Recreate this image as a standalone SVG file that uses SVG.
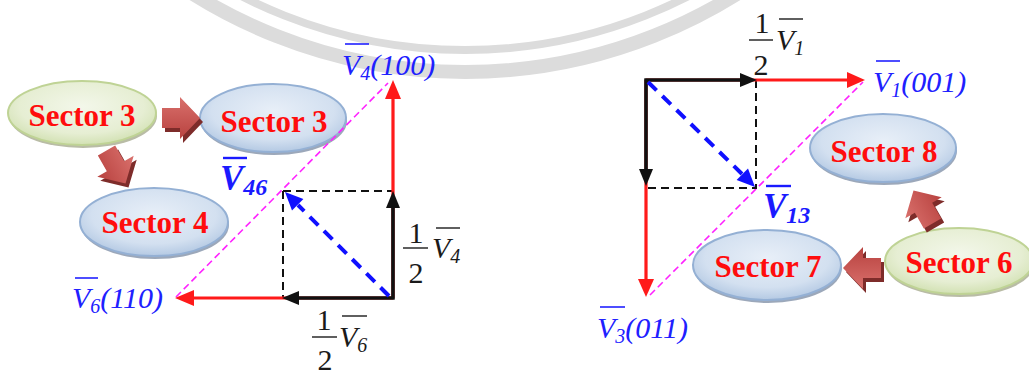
<svg xmlns="http://www.w3.org/2000/svg" width="1029" height="374" viewBox="0 0 1029 374">
<style>
.sec{font-family:"Liberation Serif",serif;font-weight:bold;font-size:31px;fill:#ff0d0d;text-anchor:middle}
.lbl{font-family:"Liberation Serif",serif;font-style:italic;font-size:30px;fill:#2020ff}
.big{font-family:"Liberation Serif",serif;font-style:italic;font-weight:bold;font-size:35px;fill:#1a1aff}
.num{font-family:"Liberation Serif",serif;font-size:30px;fill:#1a1a1a;text-anchor:middle}
.vv{font-family:"Liberation Serif",serif;font-style:italic;font-size:30px;fill:#1a1a1a}
.ovb{stroke:#2020ff;stroke-width:1.6}
.ovk{stroke:#1a1a1a;stroke-width:1.4}
.red{stroke:#ff1a1a;stroke-width:3.2;fill:none}
.blk{stroke:#111;stroke-width:3.6;fill:none}
.dsh{stroke:#111;stroke-width:2;stroke-dasharray:8,5;fill:none}
.bld{stroke:#1010ff;stroke-width:4;stroke-dasharray:12,8;fill:none}
.mag{stroke:#ff22ff;stroke-width:1.6;stroke-dasharray:7,4;fill:none}
.wm{fill:none;stroke:#dcdcdc}
</style>
<defs>
<radialGradient id="gb" cx="0.5" cy="0.4" r="0.6">
<stop offset="0" stop-color="#e8eff8"/><stop offset="0.7" stop-color="#d3e0f0"/><stop offset="1" stop-color="#b4c9e3"/>
</radialGradient>
<radialGradient id="gg" cx="0.5" cy="0.4" r="0.6">
<stop offset="0" stop-color="#f3f7ea"/><stop offset="0.7" stop-color="#e6eed3"/><stop offset="1" stop-color="#d2e1b3"/>
</radialGradient>
<linearGradient id="ga" x1="0" y1="0" x2="0" y2="1">
<stop offset="0" stop-color="#d9706c"/><stop offset="1" stop-color="#b8423f"/>
</linearGradient>
<path id="barrow" d="M-19,-10 H-1 V-21 L19,0 L-1,21 V10 H-19 Z"/>
</defs>
<rect width="1029" height="374" fill="#fff"/>
<g id="watermark">
<circle class="wm" cx="465" cy="-440" r="512" stroke-width="14"/>
<circle class="wm" cx="465" cy="-440" r="490" stroke-width="8"/>
</g>

<g id="node-sector3-green">
<ellipse cx="83" cy="116" rx="74" ry="32" fill="#b9bca6"/>
<ellipse cx="82" cy="113" rx="74" ry="32" fill="url(#gg)" stroke="#bfd395" stroke-width="2"/>
<text class="sec" x="82" y="126">Sector 3</text>
</g>
<g id="node-sector3-blue">
<ellipse cx="274" cy="121" rx="73" ry="34" fill="#9ca8ba"/>
<ellipse cx="273" cy="118" rx="73" ry="34" fill="url(#gb)" stroke="#94b0d4" stroke-width="2"/>
<text class="sec" x="274" y="132">Sector 3</text>
</g>
<g id="node-sector4">
<ellipse cx="155" cy="225" rx="74" ry="34" fill="#9ca8ba"/>
<ellipse cx="154" cy="222" rx="74" ry="34" fill="url(#gb)" stroke="#94b0d4" stroke-width="2"/>
<text class="sec" x="155" y="233">Sector 4</text>
</g>
<g id="node-sector8">
<ellipse cx="884" cy="151" rx="73" ry="34" fill="#9ca8ba"/>
<ellipse cx="883" cy="148" rx="73" ry="34" fill="url(#gb)" stroke="#94b0d4" stroke-width="2"/>
<text class="sec" x="884" y="162">Sector 8</text>
</g>
<g id="node-sector7">
<ellipse cx="768" cy="268" rx="74" ry="35" fill="#9ca8ba"/>
<ellipse cx="767" cy="265" rx="74" ry="35" fill="url(#gb)" stroke="#94b0d4" stroke-width="2"/>
<text class="sec" x="768" y="277">Sector 7</text>
</g>
<g id="node-sector6">
<ellipse cx="960" cy="264" rx="74" ry="33" fill="#b9bca6"/>
<ellipse cx="959" cy="261" rx="74" ry="33" fill="url(#gg)" stroke="#bfd395" stroke-width="2"/>
<text class="sec" x="959" y="273">Sector 6</text>
</g>

<g id="block-arrows">
<use href="#barrow" transform="translate(184,122)" fill="#7e2c2a"/>
<use href="#barrow" transform="translate(181,118)" fill="url(#ga)"/>
<use href="#barrow" transform="translate(119,171) rotate(60)" fill="#7e2c2a"/>
<use href="#barrow" transform="translate(116,167) rotate(60)" fill="url(#ga)"/>
<use href="#barrow" transform="translate(865,272) rotate(180)" fill="#7e2c2a"/>
<use href="#barrow" transform="translate(862,268) rotate(180)" fill="url(#ga)"/>
<use href="#barrow" transform="translate(926,211) rotate(-120)" fill="#7e2c2a"/>
<use href="#barrow" transform="translate(923,207) rotate(-120)" fill="url(#ga)"/>
</g>

<g id="connectors">
<path class="mag" d="M176,297 L388,83"/>
<path class="dsh" d="M283,191 H393 M283,191 V298"/>
<path class="red" d="M393,298 V97 M393,298 H192"/>
<polygon points="393,80 385,99 401,99" fill="#ff1a1a"/>
<polygon points="175,298 194,290 194,306" fill="#ff1a1a"/>
<path class="blk" d="M393,299.5 V206 M394.5,298 H297"/>
<polygon points="393,191 386,208 400,208" fill="#111"/>
<polygon points="282,298 299,291 299,305" fill="#111"/>
<path class="bld" d="M389,296 L298,205"/>
<polygon points="285,192 303.4,199 292,210.4" fill="#1010ff"/>
<path class="mag" d="M650,295 L863,82"/>
<path class="dsh" d="M756,80 V188 H646"/>
<path class="red" d="M646,80 H848 M646,80 V280"/>
<polygon points="865,80 847,72 847,88" fill="#ff1a1a"/>
<polygon points="646,297 638,279 654,279" fill="#ff1a1a"/>
<path class="blk" d="M644.5,80 H742 M646,78.5 V171"/>
<polygon points="757,80 740,73 740,87" fill="#111"/>
<polygon points="646,186 639,169 653,169" fill="#111"/>
<path class="bld" d="M648,82 L742,174"/>
<polygon points="755,187 748,168.6 736.6,180" fill="#1010ff"/>
</g>

<g id="labels">
<text class="lbl" x="342" y="75">V<tspan font-size="20" dy="5">4</tspan><tspan dy="-5">(100)</tspan></text>
<line class="ovb" x1="345" y1="44" x2="369" y2="44"/>
<text class="lbl" x="72" y="308">V<tspan font-size="20" dy="5">6</tspan><tspan dy="-5">(110)</tspan></text>
<line class="ovb" x1="75" y1="278" x2="98" y2="278"/>
<text class="lbl" x="873" y="92">V<tspan font-size="20" dy="5">1</tspan><tspan dy="-5">(001)</tspan></text>
<line class="ovb" x1="876" y1="61" x2="900" y2="61"/>
<text class="lbl" x="597" y="338">V<tspan font-size="20" dy="5">3</tspan><tspan dy="-5">(011)</tspan></text>
<line class="ovb" x1="600" y1="307" x2="625" y2="307"/>

<text class="big" x="220" y="190">V<tspan font-size="24" dy="5">46</tspan></text>
<line x1="223" y1="158" x2="247" y2="158" stroke="#1a1aff" stroke-width="2.4"/>
<text class="big" x="763" y="218">V<tspan font-size="24" dy="5">13</tspan></text>
<line x1="766" y1="186" x2="791" y2="186" stroke="#1a1aff" stroke-width="2.4"/>

<text class="num" x="416" y="243">1</text>
<line class="ovk" x1="403" y1="248" x2="428" y2="248"/>
<text class="num" x="416" y="283">2</text>
<text class="vv" x="432" y="258">V<tspan font-size="20" dy="5">4</tspan></text>
<line class="ovk" x1="436" y1="228" x2="460" y2="228"/>

<text class="num" x="324" y="330">1</text>
<line class="ovk" x1="312" y1="337" x2="337" y2="337"/>
<text class="num" x="325" y="370">2</text>
<text class="vv" x="339" y="347">V<tspan font-size="20" dy="5">6</tspan></text>
<line class="ovk" x1="342" y1="316" x2="367" y2="316"/>

<text class="num" x="762" y="33">1</text>
<line class="ovk" x1="749" y1="40" x2="773" y2="40"/>
<text class="num" x="761" y="75">2</text>
<text class="vv" x="776" y="50">V<tspan font-size="20" dy="5">1</tspan></text>
<line class="ovk" x1="779" y1="19" x2="803" y2="19"/>
</g>
</svg>
